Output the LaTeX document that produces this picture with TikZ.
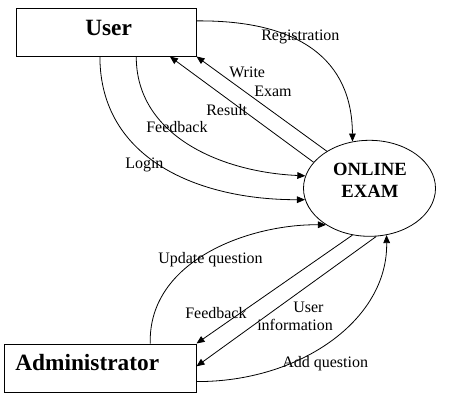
\documentclass[tikz,border=0pt]{standalone}
\usepackage{fontspec}
\setmainfont{Liberation Serif}
\usetikzlibrary{arrows.meta,shapes.geometric}
\tikzset{
	flow/.style={line width=0.6pt, -{Triangle[length=6pt,width=5pt]}},
	entity/.style={draw, line width=0.75pt, rectangle, inner sep=0pt},
	lbl/.style={anchor=base west, inner sep=0pt, font=\fontsize{12}{14}\selectfont},
	big/.style={anchor=base west, inner sep=0pt, font=\bfseries\fontsize{17.5}{20}\selectfont},
}

\begin{document}
\begin{tikzpicture}[x=0.75pt, y=-0.75pt]
			%%%%% START %%%%%
			\useasboundingbox (0, 0) rectangle (449, 408);
			
			\node[entity, minimum width=135pt, minimum height=36pt] (user) at (106, 32) {};
			\node[big] (usertxt) at (85, 35) {User};
			
			\node[entity, minimum width=144pt, minimum height=36pt] (admin) at (100, 368) {};
			\node[big] (admintxt) at (15, 370.5) {Administrator};
			
			\node[draw, ellipse, line width=0.6pt, inner sep=0pt, minimum width=99pt, minimum height=72pt] (exam) at (369.5, 188.3) {};
			\node[align=center, inner sep=0pt, font=\bfseries\fontsize{14}{16.5}\selectfont] (examtxt) at (370, 180) {ONLINE\\EXAM};
			
			% user side
			\draw[flow] (user.7) .. controls (300, 20) and (352, 60) .. (exam.110);
			\draw[flow] (exam.139.4) -- (user.south east);
			\draw[flow] (exam.155.5) -- (user.339);
			\draw[flow] (user.321) .. controls (136, 135) and (220, 172) .. (exam.169.6);
			\draw[flow] (user.256) .. controls (100, 160) and (200, 200) .. (exam.190.5);
			
			% admin side
			\draw[flow] (admin.26.6) .. controls (148, 260) and (250, 224) .. (exam.220);
			\draw[flow] (exam.250) -- (admin.north east);
			\draw[flow] (exam.278.6) -- (admin.1);
			\draw[flow] (admin.352) .. controls (300, 382) and (388, 320) .. (exam.290.9);
			
			\node[lbl] (lreg) at (261, 40) {Registration};
			\node[lbl] (lwrite) at (229, 77) {Write};
			\node[lbl] (lexam) at (254, 96) {Exam};
			\node[lbl] (lres) at (206, 115) {Result};
			\node[lbl] (lfb) at (146, 132) {Feedback};
			\node[lbl] (llogin) at (125, 168) {Login};
			\node[lbl] (lupd) at (158, 263) {Update question};
			\node[lbl] (lfb2) at (185, 318) {Feedback};
			\node[lbl] (luser) at (293, 312) {User};
			\node[lbl] (linfo) at (257, 330) {information};
			\node[lbl] (ladd) at (282, 367) {Add question};
			
			%%%%% END %%%%%
\end{tikzpicture}
\end{document}
